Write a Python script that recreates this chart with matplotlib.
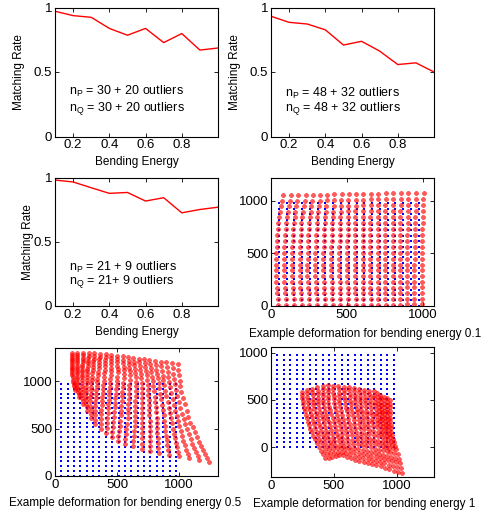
import numpy as np
import matplotlib
matplotlib.use('Agg')
import matplotlib.pyplot as plt

plt.rcParams['font.family'] = ['Liberation Sans', 'DejaVu Sans']
plt.rcParams['mathtext.default'] = 'regular'
plt.rcParams['font.size'] = 8

# ---------------- data ----------------
bending_energy = [0.1, 0.2, 0.3, 0.4, 0.5, 0.6, 0.7, 0.8, 0.9, 1.0]
rate_30_20 = [0.971, 0.937, 0.924, 0.838, 0.785, 0.838, 0.728, 0.798, 0.670, 0.686]
rate_48_32 = [0.932, 0.885, 0.872, 0.827, 0.709, 0.738, 0.662, 0.558, 0.571, 0.500]
rate_21_9 = [0.984, 0.969, 0.924, 0.880, 0.887, 0.820, 0.846, 0.728, 0.754, 0.772]

text_30_20 = [r'n$_P$ = 30 + 20 outliers', r'n$_Q$ = 30 + 20 outliers']
text_48_32 = [r'n$_P$ = 48 + 32 outliers', r'n$_Q$ = 48 + 32 outliers']
text_21_9 = [r'n$_P$ = 21 + 9 outliers', r'n$_Q$ = 21+ 9 outliers']

x_ticks_rate = [0.2, 0.4, 0.6, 0.8]
y_ticks_rate = [0, 0.5, 1]
ticks_def = [0, 500, 1000]

# regular source grid (blue points)
grid_vals = [0, 51, 103, 154, 205, 257, 308, 359, 411, 462,
             513, 564, 616, 667, 718, 770, 821, 872, 924, 975]
# source positions of the control lattice
node_vals = [0, 244, 488, 731, 975]

# deformed positions of the control lattice (rows: source y = node_vals[0..4])
def01_x = [[49, 292, 535, 768, 993],
           [33, 280, 530, 765, 993],
           [35, 280, 530, 765, 995],
           [49, 290, 532, 767, 1000],
           [82, 314, 535, 768, 1006]]
def01_y = [[9, 9, 9, 9, 16],
           [269, 269, 269, 269, 269],
           [532, 532, 532, 532, 532],
           [801, 801, 801, 801, 801],
           [1054, 1054, 1067, 1070, 1070]]

def05_x = [[163, 312, 528, 854, 1246],
           [144, 312, 556, 840, 1165],
           [138, 325, 569, 827, 1084],
           [136, 339, 583, 799, 1016],
           [136, 352, 569, 772, 989]]
def05_y = [[908, 556, 345, 240, 151],
           [1014, 785, 609, 486, 345],
           [1119, 979, 855, 750, 591],
           [1207, 1154, 1084, 1014, 908],
           [1302, 1295, 1260, 1225, 1183]]

def1_x = [[430, 562, 721, 880, 1045],
          [350, 522, 708, 867, 1000],
          [297, 483, 682, 854, 960],
          [257, 443, 655, 841, 947],
          [244, 443, 642, 827, 947]]
def1_y = [[-116, -81, -152, -205, -275],
          [77, 95, 59, 7, -29],
          [253, 288, 271, 235, 147],
          [429, 482, 464, 411, 323],
          [587, 658, 634, 587, 499]]


def warp(lat):
    lat = np.asarray(lat, dtype=float)
    g = np.asarray(grid_vals, dtype=float)
    nv = np.asarray(node_vals, dtype=float)
    rows = np.array([np.interp(g, nv, r) for r in lat])          # 5 x 20
    full = np.array([np.interp(g, nv, rows[:, k]) for k in range(len(g))]).T
    return full


W, H = 483, 517
fig = plt.figure(figsize=(W / 100, H / 100), dpi=100)


def axes_px(l, t, r, b):
    return fig.add_axes([l / W, 1 - b / H, (r - l) / W, (b - t) / H])


def style(ax):
    ax.tick_params(direction='in', top=True, right=True, length=3, width=0.6,
                   labelsize=9.5, pad=2)
    for s in ax.spines.values():
        s.set_linewidth(0.8)


def rate_panel(ax, vals, texts, ty, ylab_x):
    ax.plot(bending_energy, vals, color='red', lw=1.0)
    ax.set_xlim(0.1, 1.0)
    ax.set_ylim(0, 1)
    ax.set_xticks(x_ticks_rate)
    ax.set_xticklabels(['0.2', '0.4', '0.6', '0.8'])
    ax.set_yticks(y_ticks_rate)
    ax.set_yticklabels(['0', '0.5', '1'])
    ax.set_xlabel('Bending Energy', fontsize=8.5)
    ax.xaxis.set_label_coords(0.5, -0.155)
    ax.set_ylabel('Matching Rate', fontsize=8.5)
    ax.yaxis.set_label_coords(ylab_x, 0.5)
    style(ax)
    ax.text(0.178, ty[0], texts[0], fontsize=9, va='center')
    ax.text(0.178, ty[1], texts[1], fontsize=9, va='center')


def def_panel(ax, lx, ly, xlim, ylim, label, lab_x):
    gx, gy = np.meshgrid(grid_vals, grid_vals)
    ax.plot(gx.ravel(), gy.ravel(), linestyle='none', marker='s', ms=1.5,
            mfc='blue', mec='blue', mew=0)
    wx = warp(lx)
    wy = warp(ly)
    ax.plot(wx.ravel(), wy.ravel(), linestyle='none', marker=(8, 2, 0), ms=3.2,
            color=(1.0, 0.0, 0.0), mew=0.9, alpha=0.65)
    ax.set_xlim(*xlim)
    ax.set_ylim(*ylim)
    ax.set_xticks(ticks_def)
    ax.set_yticks(ticks_def)
    ax.set_xlabel(label, fontsize=8.5)
    ax.xaxis.set_label_coords(lab_x, -0.165)
    style(ax)


ax1 = axes_px(55, 7.5, 218, 136.5)
rate_panel(ax1, rate_30_20, text_30_20, (0.35, 0.22), -0.185)

ax2 = axes_px(271, 7.5, 434, 136.5)
rate_panel(ax2, rate_48_32, text_48_32, (0.335, 0.22), -0.187)

ax3 = axes_px(55, 178, 218, 306)
rate_panel(ax3, rate_21_9, text_21_9, (0.305, 0.19), -0.13)

ax4 = axes_px(271, 177.7, 434, 306.3)
def_panel(ax4, def01_x, def01_y, (0, 1075), (-5, 1220),
          'Example deformation for bending energy 0.1', 0.575)

ax5 = axes_px(55, 348.3, 218, 476)
def_panel(ax5, def05_x, def05_y, (0, 1315), (0, 1350),
          'Example deformation for bending energy 0.5', 0.43)

ax6 = axes_px(271, 347.3, 434, 477)
def_panel(ax6, def1_x, def1_y, (0, 1297), (-314, 1056),
          'Example deformation for bending energy 1', 0.57)

fig.savefig('out.png', dpi=100)
